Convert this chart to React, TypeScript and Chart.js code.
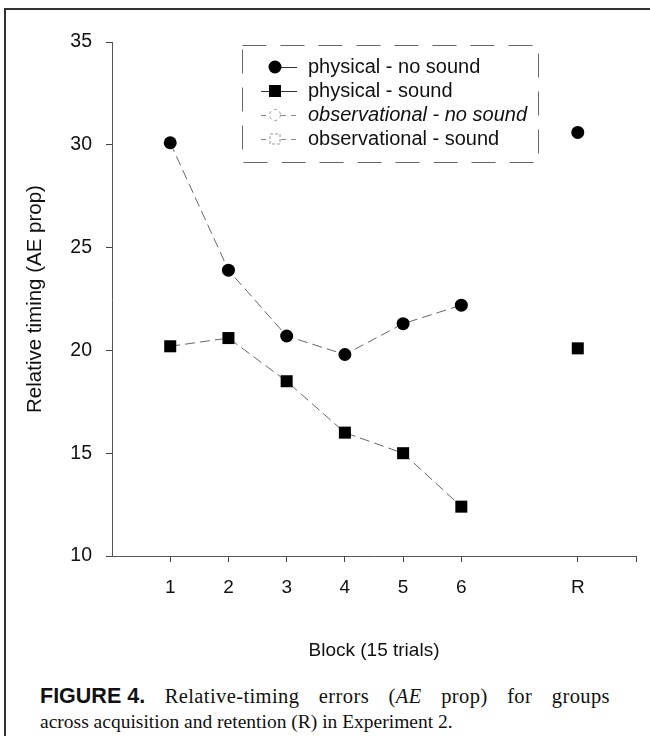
import React, { useEffect, useRef } from 'react';
import { Chart, registerables } from 'chart.js';

Chart.register(...registerables);

// ---- data ----
const blockPositions = [1, 2, 3, 4, 5, 6];
const retentionPosition = 8;
const xTickLabels: Record<number, string> = { 1: '1', 2: '2', 3: '3', 4: '4', 5: '5', 6: '6', 8: 'R' };
const seriesNames = ['physical - no sound', 'physical - sound', 'observational - no sound', 'observational - sound'];
const physicalNoSound = [30.1, 23.9, 20.7, 19.8, 21.3, 22.2];
const physicalNoSoundRetention = 30.6;
const physicalSound = [20.2, 20.6, 18.5, 16.0, 15.0, 12.4];
const physicalSoundRetention = 20.1;
const yMin = 10;
const yMax = 35;
const yStep = 5;
const xMin = 0;
const xMax = 9;
const xTitle = 'Block (15 trials)';
const yTitle = 'Relative timing (AE prop)';

const FONT = '"Liberation Sans", Arial, Helvetica, sans-serif';
const W = 650;
const H = 682;

const legendPlugin = {
  id: 'figLegend',
  afterDraw(chart: any) {
    const ctx = chart.ctx as CanvasRenderingContext2D;
    ctx.save();
    // box
    ctx.strokeStyle = '#666';
    ctx.lineWidth = 1;
    ctx.setLineDash([24, 14]);
    ctx.strokeRect(242.5, 45.5, 296, 117);
    const rows = [67, 91, 115, 139];
    const mx = 275;
    rows.forEach((ry, i) => {
      // sample line
      ctx.strokeStyle = i < 2 ? '#333' : '#888';
      ctx.lineWidth = 1;
      ctx.setLineDash(i < 2 ? [] : [5, 5]);
      ctx.beginPath();
      ctx.moveTo(i === 0 ? mx : 261, ry + 0.5);
      ctx.lineTo(297, ry + 0.5);
      ctx.stroke();
      ctx.setLineDash([]);
      // marker
      if (i === 0) {
        ctx.fillStyle = '#000';
        ctx.beginPath();
        ctx.arc(mx, ry, 6.5, 0, Math.PI * 2);
        ctx.fill();
      } else if (i === 1) {
        ctx.fillStyle = '#000';
        ctx.fillRect(mx - 6, ry - 6, 12, 12);
      } else if (i === 2) {
        ctx.fillStyle = '#fff';
        ctx.strokeStyle = '#999';
        ctx.setLineDash([3, 3]);
        ctx.beginPath();
        ctx.arc(mx, ry, 5.5, 0, Math.PI * 2);
        ctx.fill();
        ctx.stroke();
        ctx.setLineDash([]);
      } else {
        ctx.fillStyle = '#fff';
        ctx.strokeStyle = '#999';
        ctx.setLineDash([3, 2]);
        ctx.fillRect(mx - 5, ry - 5, 10, 10);
        ctx.strokeRect(mx - 5, ry - 5, 10, 10);
        ctx.setLineDash([]);
      }
      // text
      ctx.fillStyle = '#111';
      ctx.font = (i === 2 ? 'italic ' : '') + '20px ' + FONT;
      ctx.textBaseline = 'middle';
      ctx.textAlign = 'left';
      ctx.fillText(seriesNames[i], 308, ry);
    });
    ctx.restore();
  },
};

export default function App() {
  const ref = useRef<HTMLCanvasElement | null>(null);

  useEffect(() => {
    const prevMargin = document.body.style.margin;
    document.body.style.margin = '0';
    const canvas = ref.current;
    if (!canvas) return;
    const lineStyle = {
      borderColor: '#666',
      borderWidth: 1,
      borderDash: [10, 5],
      pointBackgroundColor: '#000',
      pointBorderColor: '#000',
      pointBorderWidth: 0,
      pointHoverRadius: 0,
    };
    const chart = new Chart(canvas, {
      type: 'line',
      data: {
        datasets: [
          {
            label: seriesNames[0],
            data: blockPositions.map((x, i) => ({ x, y: physicalNoSound[i] })),
            pointStyle: 'circle',
            pointRadius: 6.5,
            ...lineStyle,
          },
          {
            label: seriesNames[0] + ' (R)',
            data: [{ x: retentionPosition, y: physicalNoSoundRetention }],
            pointStyle: 'circle',
            pointRadius: 6.5,
            showLine: false,
            ...lineStyle,
          },
          {
            label: seriesNames[1],
            data: blockPositions.map((x, i) => ({ x, y: physicalSound[i] })),
            pointStyle: 'rect',
            pointRadius: 8.5,
            ...lineStyle,
          },
          {
            label: seriesNames[1] + ' (R)',
            data: [{ x: retentionPosition, y: physicalSoundRetention }],
            pointStyle: 'rect',
            pointRadius: 8.5,
            showLine: false,
            ...lineStyle,
          },
          { label: seriesNames[2], data: [] },
          { label: seriesNames[3], data: [] },
        ],
      },
      options: {
        animation: false,
        responsive: false,
        maintainAspectRatio: false,
        layout: { padding: { top: 42, right: 14, left: 0, bottom: 0 } },
        plugins: { legend: { display: false }, tooltip: { enabled: false } },
        elements: { line: { tension: 0 } },
        scales: {
          x: {
            type: 'linear',
            position: 'bottom',
            min: xMin,
            max: xMax,
            afterFit: (s: any) => {
              s.height = H - 556;
              s.paddingLeft = 0;
              s.paddingRight = 0;
            },
            ticks: {
              stepSize: 1,
              autoSkip: false,
              maxRotation: 0,
              padding: 14,
              color: '#111',
              font: { family: FONT, size: 19 },
              callback: (v: any) => xTickLabels[Number(v)] ?? '',
            },
            grid: {
              drawOnChartArea: false,
              drawTicks: true,
              tickLength: 6,
              tickColor: (c: any) => {
                const v = c.tick ? c.tick.value : -1;
                return xTickLabels[v] || v === xMax ? '#444' : 'rgba(0,0,0,0)';
              },
            },
            border: { display: true, color: '#555', width: 1, dash: [24, 8] },
            title: {
              display: true,
              text: xTitle,
              color: '#111',
              font: { family: FONT, size: 19 },
              padding: { top: 0, bottom: 20 },
            },
          },
          y: {
            type: 'linear',
            min: yMin,
            max: yMax,
            afterFit: (s: any) => {
              s.width = 112;
              s.paddingTop = 0;
              s.paddingBottom = 0;
            },
            ticks: {
              stepSize: yStep,
              padding: 14,
              color: '#111',
              font: { family: FONT, size: 19.5 },
            },
            grid: {
              drawOnChartArea: false,
              drawTicks: true,
              tickLength: 6,
              tickColor: '#444',
            },
            border: { display: true, color: '#555', width: 1, dash: [18, 10] },
            title: {
              display: true,
              text: yTitle,
              color: '#111',
              font: { family: FONT, size: 20.5 },
              padding: { top: 23, bottom: 0 },
            },
          },
        },
      },
      plugins: [legendPlugin],
    } as any);
    return () => {
      chart.destroy();
      document.body.style.margin = prevMargin;
    };
  }, []);

  const captionStyle: React.CSSProperties = {
    fontFamily: '"Liberation Serif", "Times New Roman", serif',
    fontSize: 19.5,
    lineHeight: '25px',
    color: '#111',
    whiteSpace: 'nowrap',
  };

  return (
    <div style={{ position: 'relative', width: W, height: 736, background: '#fff', overflow: 'hidden' }}>
      <div
        style={{
          position: 'absolute',
          left: 4,
          top: 8,
          width: 646,
          height: 728,
          borderTop: '2px solid #333',
          borderLeft: '2px solid #333',
          boxSizing: 'border-box',
        }}
      />
      <canvas ref={ref} width={W} height={H} style={{ position: 'absolute', left: 0, top: 0, width: W, height: H }} />
      <div style={{ position: 'absolute', left: 40, top: 684, width: 570 }}>
        <div
          style={{
            ...captionStyle,
            fontSize: 20.5,
            letterSpacing: '0.4px',
            textAlign: 'justify',
            textAlignLast: 'justify',
            whiteSpace: 'normal',
          }}
        >
          <span
            style={{
              display: 'inline-block',
              fontFamily: FONT,
              fontWeight: 'bold',
              fontSize: 21.5,
              letterSpacing: 0,
              whiteSpace: 'nowrap',
            }}
          >
            FIGURE 4.
          </span>{' '}
          Relative-timing errors (<i>AE</i> prop) for groups
        </div>
        <div style={captionStyle}>across acquisition and retention (R) in Experiment 2.</div>
      </div>
    </div>
  );
}
